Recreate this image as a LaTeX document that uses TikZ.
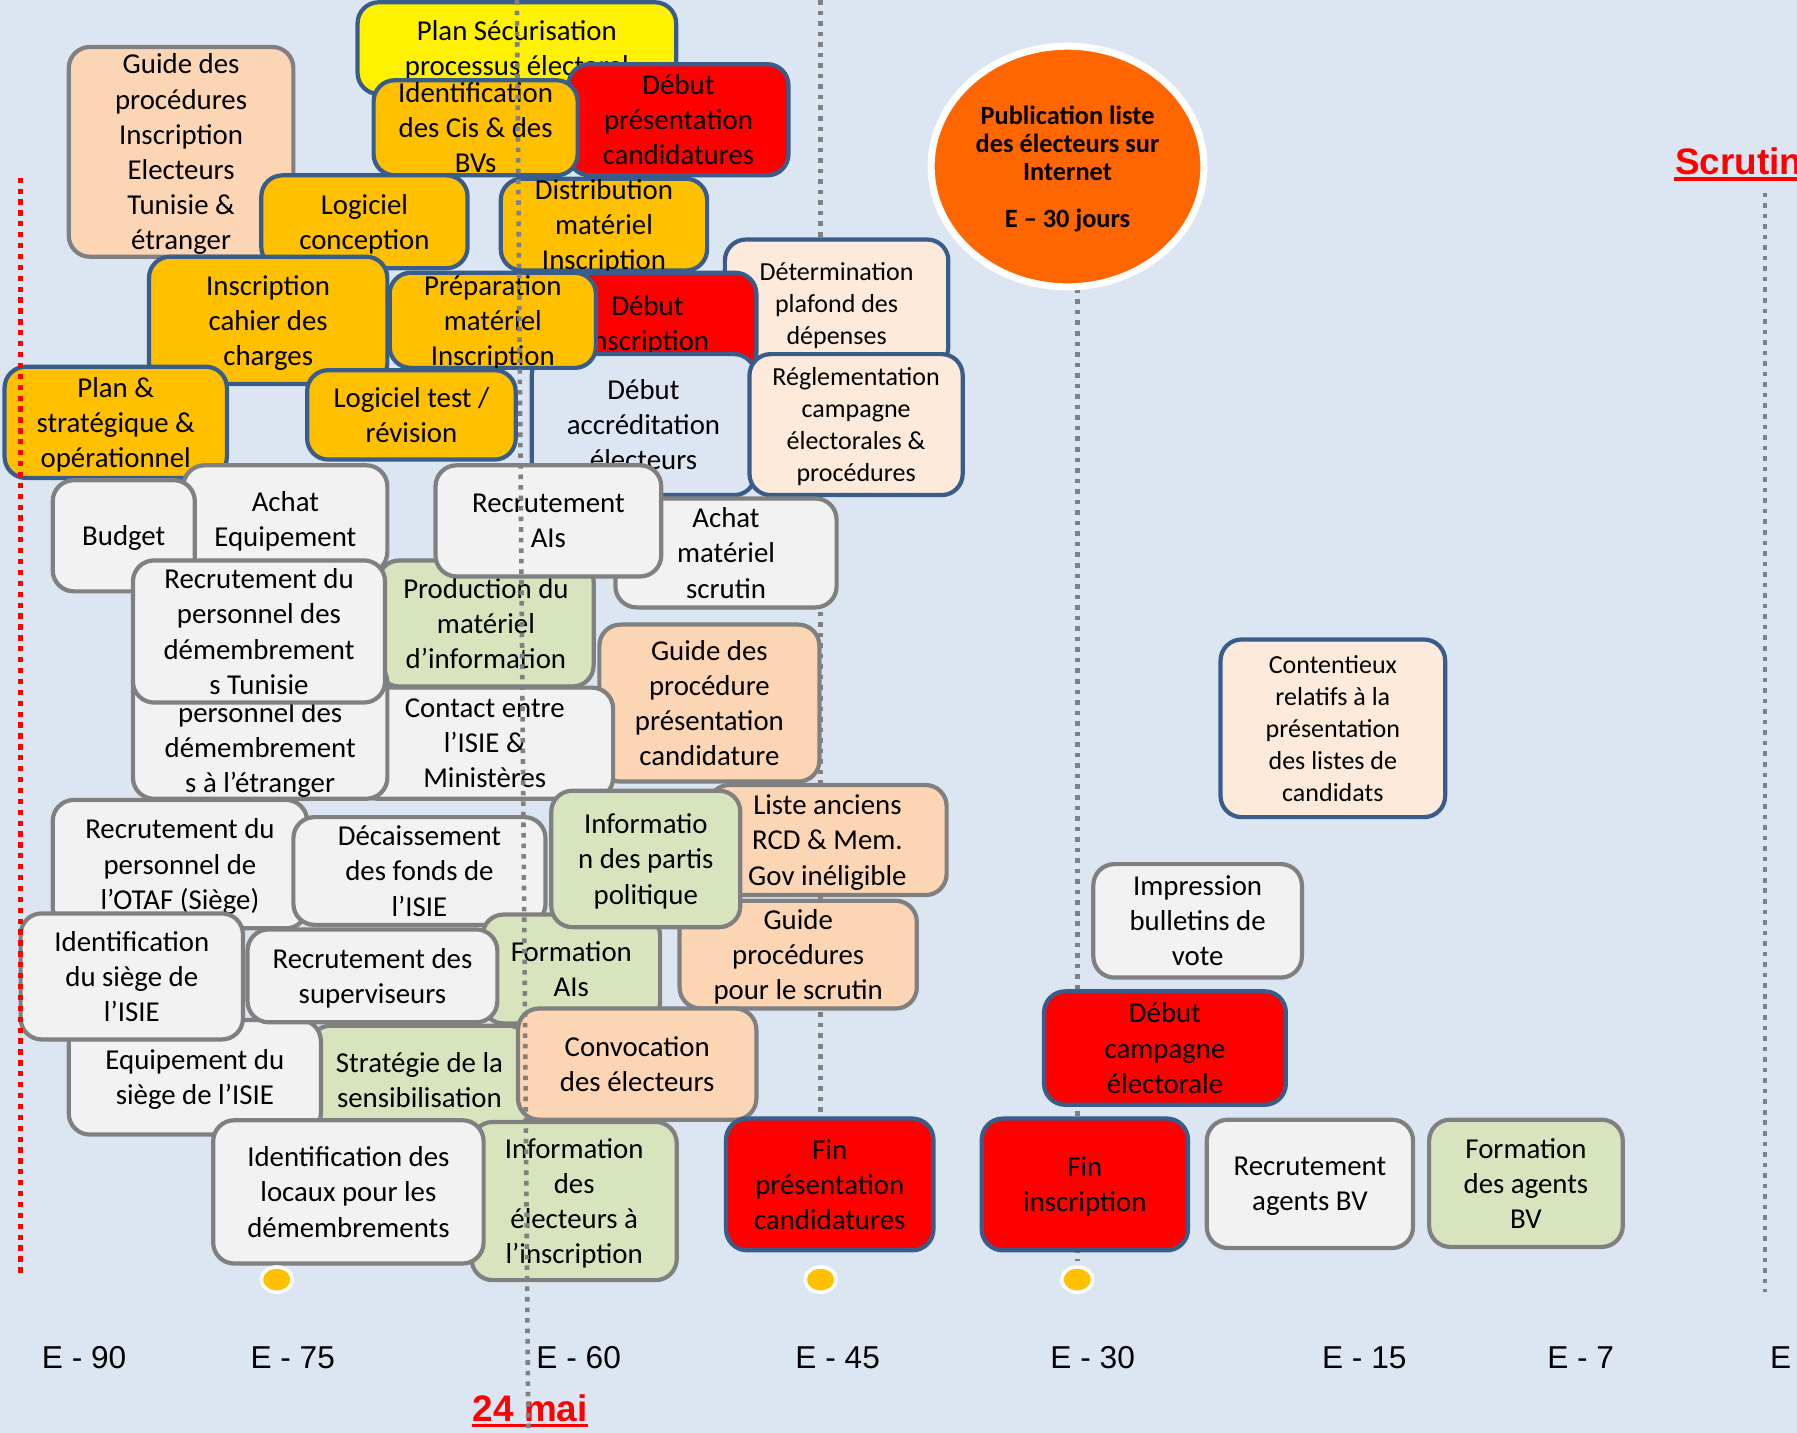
\documentclass[tikz,border=0pt]{standalone}
\usepackage{fontspec}
\setmainfont{Carlito}
\newfontfamily\arialfont{Liberation Sans}
\usetikzlibrary{shapes.geometric}

\definecolor{bgblue}{HTML}{DCE6F2}
\definecolor{gold}{HTML}{FFC000}
\definecolor{peach}{HTML}{FCD5B5}
\definecolor{lpeach}{HTML}{FDEADA}
\definecolor{lgray}{HTML}{F2F2F2}
\definecolor{lgreen}{HTML}{D7E4BD}
\definecolor{bluebd}{HTML}{385D8A}
\definecolor{graybd}{HTML}{808080}
\definecolor{pubor}{HTML}{FF6600}

\def\pxu{0.01146cm}

\tikzset{
  act/.style={rounded corners=6pt, line width=1.2pt, align=center, inner sep=0pt,
    text depth=-2.6pt, font=\fontsize{8.2}{10}\selectfont},
  sz/.style 2 args={minimum width=#1*\pxu, minimum height=#2*\pxu},
  smalltxt/.style={font=\fontsize{7.4}{9.1}\selectfont},
  goldbox/.style={act, fill=gold, draw=bluebd},
  redbox/.style={act, fill=red, draw=bluebd},
  yellowbox/.style={act, fill=yellow, draw=bluebd},
  bluebox/.style={act, fill=bgblue, draw=bluebd},
  lpeachbox/.style={act, fill=lpeach, draw=bluebd},
  peachbox/.style={act, fill=peach, draw=graybd},
  graybox/.style={act, fill=lgray, draw=graybd},
  greenbox/.style={act, fill=lgreen, draw=graybd},
  ydot/.style={ellipse, fill=gold, draw=white, line width=1pt, inner sep=0pt, sz={27}{22}},
  guide/.style={draw=graybd, line width=1.3pt, dash pattern=on 1.3pt off 1.7pt},
  reddots/.style={draw=red, line width=1.5pt, dash pattern=on 1.5pt off 1.6pt},
  elabel/.style={anchor=base west, inner sep=0pt, font=\arialfont\fontsize{9}{10}\selectfont},
  datelabel/.style={anchor=base west, inner sep=0pt, text=red, font=\arialfont\bfseries\fontsize{10.5}{12}\selectfont}
}

\begin{document}
\begin{tikzpicture}[x=0.01146cm, y=-0.01146cm]
	
	\useasboundingbox (0,0) rectangle (1568,1250);
	\clip (0,0) rectangle (1568,1250);
	\fill[bgblue] (0,0) rectangle (1568,1250);
	
	% guide lines behind the boxes
	\coordinate (gB1) at (716,0);
	\coordinate (gB2) at (716,1090);
	\coordinate (gC1) at (940,252);
	\coordinate (gC2) at (940,1100);
	\coordinate (gD1) at (1540,168);
	\coordinate (gD2) at (1540,1127);
	\draw[guide] (gB1) -- (gB2);
	\draw[guide] (gC1) -- (gC2);
	\draw[guide] (gD1) -- (gD2);
	
	% activities
	\node[yellowbox, sz={278}{80}] (plansec) at (451,42) {Plan Sécurisation\\processus électoral};
	\node[redbox, sz={192}{97}] (debpres) at (592,104.5) {Début\\présentation\\candidatures};
	\node[goldbox, sz={178}{83}] (identcis) at (415,111.5) {Identification\\des Cis \& des\\BVs};
	\node[peachbox, sz={196}{183}] (guideinsc) at (158,132.5) {Guide des\\procédures\\Inscription\\Electeurs\\Tunisie \&\\étranger};
	\node[goldbox, sz={180}{81}] (logconc) at (318,193.5) {Logiciel\\conception};
	\node[goldbox, sz={180}{80}] (distrib) at (527,196) {Distribution\\matériel\\Inscription};
	\node[lpeachbox, smalltxt, sz={195}{112}] (determ) at (730,265) {Détermination\\plafond des\\dépenses};
	\node[redbox, sz={190}{88}] (debinsc) at (565,282) {Début\\inscription};
	\node[bluebox, sz={195}{123}] (debaccr) at (561.5,370.5) {Début\\accréditation\\électeurs};
	\node[lpeachbox, smalltxt, sz={186}{123}] (reglem) at (747,370.5) {Réglementation\\campagne\\électorales \&\\procédures};
	\node[goldbox, sz={208}{111}] (cahier) at (234,279.5) {Inscription\\cahier des\\charges};
	\node[goldbox, sz={180}{83}] (prepa) at (430,279.5) {Préparation\\matériel\\Inscription};
	\node[goldbox, sz={194}{97}] (planstrat) at (101,368.5) {Plan \&\\stratégique \&\\opérationnel};
	\node[goldbox, sz={182}{78}] (logtest) at (359,362) {Logiciel test /\\révision};
	\node[graybox, sz={193}{95}] (achatmat) at (633.5,482.5) {Achat\\matériel\\scrutin};
	\node[greenbox, sz={188}{110}] (prodinfo) at (424,544) {Production du\\matériel\\d’information};
	\node[graybox, sz={197}{97}] (recrais) at (478.5,454.5) {Recrutement\\AIs};
	\node[graybox, sz={178}{94}] (achateq) at (249,453) {Achat\\Equipement};
	\node[graybox, sz={124}{97}] (budget) at (108,467.5) {Budget};
	\node[peachbox, sz={192}{137}] (guidepres) at (619,613.5) {Guide des\\procédure\\présentation\\candidature};
	\node[graybox, sz={224}{97}] (contact) at (423,648.5) {Contact entre\\l’ISIE \&\\Ministères};
	\node[graybox, sz={222}{120}] (recretr) at (227,637) {Recrutement du\\personnel des\\démembrement\\s à l’étranger};
	\node[graybox, sz={220}{124}] (recrtun) at (226,551) {Recrutement du\\personnel des\\démembrement\\s Tunisie};
	\node[peachbox, sz={208}{96}] (liste) at (722,733) {Liste anciens\\RCD \& Mem.\\Gov inéligible};
	\node[peachbox, sz={207}{94}] (guidescr) at (696.5,833) {Guide\\procédures\\pour le scrutin};
	\node[graybox, sz={222}{112}] (otaf) at (157,754) {Recrutement du\\personnel de\\l’OTAF (Siège)};
	\node[graybox, sz={220}{94}] (decaiss) at (366,760) {Décaissement\\des fonds de\\l’ISIE};
	\node[greenbox, sz={192}{94}] (strat) at (366,942) {Stratégie de la\\sensibilisation};
	\node[graybox, sz={220}{100}] (equip) at (170,940) {Equipement du\\siège de l’ISIE};
	\node[graybox, sz={194}{110}] (identsiege) at (115,852) {Identification\\du siège de\\l’ISIE};
	\node[greenbox, sz={155}{95}] (formais) at (498.5,845.5) {Formation\\AIs};
	\node[graybox, sz={218}{81}] (recrsup) at (325,851.5) {Recrutement des\\superviseurs};
	\node[greenbox, sz={165}{119}] (infopart) at (563.5,749.5) {Informatio\\n des partis\\politique};
	\node[peachbox, sz={208}{97}] (convoc) at (556,928.5) {Convocation\\des électeurs};
	\node[greenbox, sz={179}{138}] (infoelec) at (501,1048) {Information\\des\\électeurs à\\l’inscription};
	\node[graybox, sz={236}{125}] (locaux) at (304,1040) {Identification des\\locaux pour les\\démembrements};
	\node[lpeachbox, smalltxt, sz={196}{155}] (content) at (1163,635.5) {Contentieux\\relatifs à la\\présentation\\des listes de\\candidats};
	\node[graybox, sz={182}{99}] (impress) at (1045,803.5) {Impression\\bulletins de\\vote};
	\node[redbox, sz={211}{99}] (debcamp) at (1016.5,914.5) {Début\\campagne\\électorale};
	\node[redbox, sz={181}{115}] (finpres) at (724,1033.5) {Fin\\présentation\\candidatures};
	\node[redbox, sz={180}{115}] (fininsc) at (946.6,1033.5) {Fin\\inscription};
	\node[graybox, sz={180}{112}] (recrbv) at (1143,1033) {Recrutement\\agents BV};
	\node[greenbox, sz={169}{111}] (formbv) at (1331.5,1032.5) {Formation\\des agents\\BV};
	
	\node[ellipse, fill=pubor, draw=white, line width=2pt, inner sep=0pt, align=center, sz={238}{210},
	  text depth=-2.6pt, font=\bfseries\fontsize{7.5}{8}\selectfont] (publi) at (931.5,145.3)
	  {Publication liste\\des électeurs sur\\Internet\\[5.4pt]E – 30 jours};
	
	% milestones
	\node[ydot] (dotA) at (241.5,1116.5) {};
	\node[ydot] (dotB) at (716,1116.5) {};
	\node[ydot] (dotC) at (940,1116.5) {};
	
	% time axis
	\node[elabel] (e90) at (36,1194) {E - 90};
	\node[elabel] (e75) at (218,1194) {E - 75};
	\node[elabel] (e60) at (467.5,1194) {E - 60};
	\node[elabel] (e45) at (693.5,1194) {E - 45};
	\node[elabel] (e30) at (916,1194) {E - 30};
	\node[elabel] (e15) at (1153,1194) {E - 15};
	\node[elabel] (e7) at (1349.5,1194) {E - 7};
	\node[elabel] (e0) at (1544,1194) {E};
	
	\node[datelabel] (mai) at (412,1240) {24 mai};
	\draw[red, line width=0.9pt] ([yshift=-1.2pt]mai.base west) -- ([yshift=-1.2pt]mai.base east);
	\node[datelabel] (scrutin) at (1461,152.5) {Scrutin};
	\draw[red, line width=0.9pt] ([yshift=-1.2pt]scrutin.base west) -- ([yshift=-1.2pt]scrutin.base east);
	
	% guide lines on top
	\coordinate (rA1) at (18,155);
	\coordinate (rA2) at (18,1112);
	\coordinate (gA1) at (451,0);
	\coordinate (gA2) at (461,1250);
	\draw[reddots] (rA1) -- (rA2);
	\draw[guide] (gA1) -- (gA2);
	
\end{tikzpicture}
\end{document}
